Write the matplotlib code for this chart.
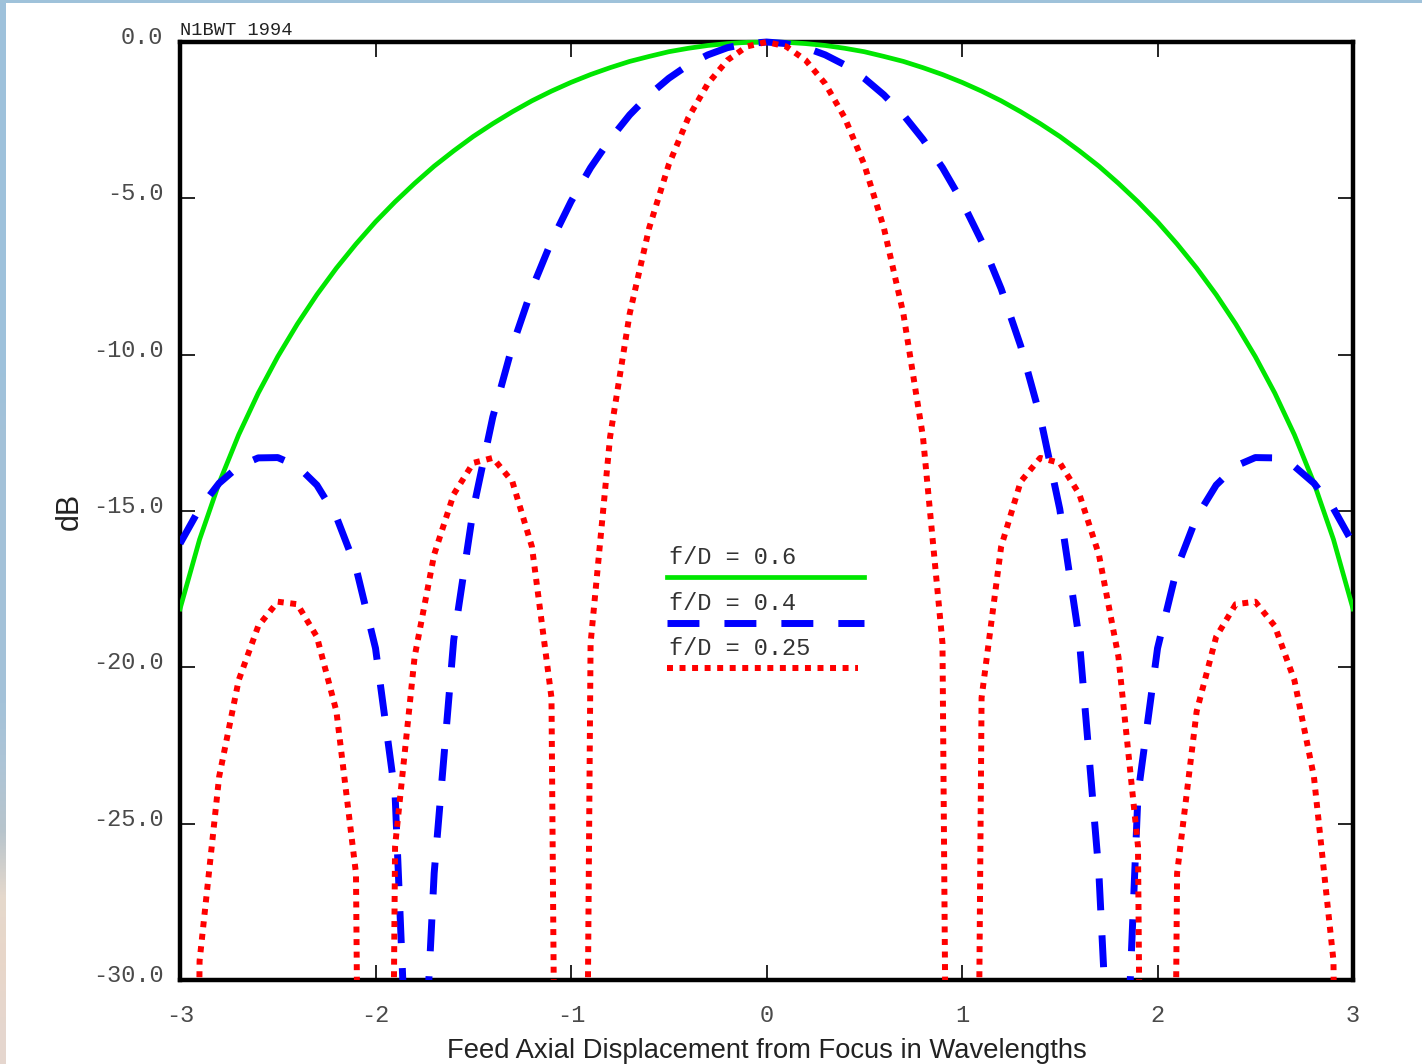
import numpy as np
import matplotlib
matplotlib.use("Agg")
import matplotlib.pyplot as plt
import matplotlib.transforms as mtransforms
from matplotlib.lines import Line2D
from matplotlib.patches import Rectangle

# feed displacement samples (wavelengths), one every 0.1
displacement = np.round(np.linspace(-3.0, 3.0, 61), 1)

# gain loss in dB (nulls drawn as very deep values)
loss_fd_060 = [-18.13, -15.91, -14.10, -12.56, -11.23, -10.06, -9.02, -8.08, -7.23, -6.46,
               -5.75, -5.11, -4.52, -3.97, -3.48, -3.02, -2.61, -2.23, -1.88, -1.57,
               -1.29, -1.04, -0.82, -0.62, -0.46, -0.31, -0.20, -0.11, -0.05, -0.01,
               0.00,
               -0.01, -0.05, -0.11, -0.20, -0.31, -0.46, -0.62, -0.82, -1.04, -1.29,
               -1.57, -1.88, -2.23, -2.61, -3.02, -3.48, -3.97, -4.52, -5.11, -5.75,
               -6.46, -7.23, -8.08, -9.02, -10.06, -11.23, -12.56, -14.10, -15.91, -18.13]

loss_fd_040 = [-16.04, -14.92, -14.11, -13.57, -13.30, -13.29, -13.56, -14.17, -15.19, -16.81,
               -19.39, -24.06, -39.09, -26.58, -19.12, -14.94, -11.99, -9.72, -7.89, -6.37,
               -5.10, -4.02, -3.11, -2.33, -1.69, -1.16, -0.73, -0.41, -0.18, -0.05,
               0.00,
               -0.05, -0.18, -0.41, -0.73, -1.16, -1.69, -2.33, -3.11, -4.02, -5.10,
               -6.37, -7.89, -9.72, -11.99, -14.94, -19.12, -26.58, -39.09, -24.06, -19.39,
               -16.81, -15.19, -14.17, -13.56, -13.29, -13.30, -13.57, -14.11, -14.92, -16.04]

loss_fd_025 = [-100.0, -29.39, -23.50, -20.41, -18.68, -17.90, -17.98, -19.02, -21.41, -26.59,
               -100.0, -25.72, -19.66, -16.39, -14.46, -13.46, -13.30, -14.06, -16.14, -20.97,
               -100.0, -19.23, -12.62, -8.69, -5.94, -3.92, -2.42, -1.33, -0.58, -0.14,
               0.00,
               -0.14, -0.58, -1.33, -2.42, -3.92, -5.94, -8.69, -12.62, -19.23, -100.0,
               -20.97, -16.14, -14.06, -13.30, -13.46, -14.46, -16.39, -19.66, -25.72, -100.0,
               -26.59, -21.41, -19.02, -17.98, -17.90, -18.68, -20.41, -23.50, -29.39, -100.0]

series_labels = ["f/D = 0.6", "f/D = 0.4", "f/D = 0.25"]
series_colors = ["#00e600", "#0000ff", "#ff0000"]

x_ticks = [-3, -2, -1, 0, 1, 2, 3]
x_tick_labels = ["-3", "-2", "-1", "0", "1", "2", "3"]
y_ticks = [0, -5, -10, -15, -20, -25, -30]
y_tick_labels = ["0.0", "-5.0", "-10.0", "-15.0", "-20.0", "-25.0", "-30.0"]

MONO = "Liberation Mono"
SANS = "Liberation Sans"

fig = plt.figure(figsize=(14.22, 10.64), dpi=100, facecolor="white")
ax = fig.add_axes([0.1266, 0.0789, 0.8249, 0.8816])

# page background strips (top and left edge of the screenshot)
strip = fig.add_axes([0, 0, 6 / 1422, 1])
grad = np.array([[0.62, 0.76, 0.86]] * 6 + [[0.64, 0.76, 0.85]] * 5 +
                [[0.68, 0.77, 0.84], [0.72, 0.77, 0.80], [0.90, 0.85, 0.80],
                 [0.91, 0.84, 0.79], [0.90, 0.84, 0.81]])
strip.imshow(grad[:, None, :], aspect="auto", extent=[0, 1, 0, 1], interpolation="bilinear")
strip.set_axis_off()
fig.patches.append(Rectangle((0, 1 - 3 / 1064), 1, 3 / 1064, transform=fig.transFigure,
                             facecolor="#9fc2da", edgecolor="none", zorder=5))

clip = Rectangle((0, 0), 1, 1.01, transform=ax.transAxes, facecolor="none", edgecolor="none")
ax.add_patch(clip)

l1, = ax.plot(displacement, loss_fd_060, color=series_colors[0], lw=3.4, zorder=3)
l2, = ax.plot(displacement, loss_fd_040, color=series_colors[1], lw=5.0, zorder=3)
l2.set_dashes([4.6, 3.6])
l3, = ax.plot(displacement, loss_fd_025, color=series_colors[2], lw=4.3, zorder=3)
l3.set_dashes([1.0, 1.1])
for ln in (l1, l2, l3):
    ln.set_clip_path(clip)

ax.set_xlim(-3, 3)
ax.set_ylim(-30, 0)

for sp in ax.spines.values():
    sp.set_linewidth(3.2)

ax.set_xticks(x_ticks)
ax.set_xticklabels(x_tick_labels, fontfamily=MONO, fontsize=17, color="#4a4a4a")
ax.set_yticks(y_ticks)
ax.set_yticklabels(y_tick_labels, fontfamily=MONO, fontsize=17, color="#4a4a4a")
ax.tick_params(axis="both", direction="in", length=11, width=1.2,
               top=True, right=True, color="black")
ax.tick_params(axis="x", pad=17)
ax.tick_params(axis="y", pad=12)

offset = mtransforms.ScaledTranslation(0, 7 / 100, fig.dpi_scale_trans)
for lab in ax.get_yticklabels():
    lab.set_transform(lab.get_transform() + offset)

ax.set_xlabel("Feed Axial Displacement from Focus in Wavelengths",
              fontfamily=SANS, fontsize=19.7, color="#222222", labelpad=8)
ax.set_ylabel("dB", fontfamily=SANS, fontsize=22, color="#222222", labelpad=6)

ax.text(0.0, 1.003, "N1BWT 1994", transform=ax.transAxes, fontfamily=MONO,
        fontsize=13.5, color="#222222", ha="left", va="bottom")

# hand-placed legend: label text above each line sample
key_x0 = 0.4152
key_y = [0.4296, 0.3806, 0.3326]
key_ends = [0.5831, 0.5831, 0.5780]
for i, lab in enumerate(series_labels):
    ax.text(key_x0 + 0.002, key_y[i] + 0.014, lab, transform=ax.transAxes,
            fontfamily=MONO, fontsize=17, color="#333333", ha="left", va="baseline")
    key = Line2D([key_x0, key_ends[i]], [key_y[i], key_y[i]], transform=ax.transAxes,
                 color=series_colors[i], lw=[3.4, 5.0, 4.3][i])
    if i == 1:
        key.set_dashes([4.6, 3.6])
    elif i == 2:
        key.set_dashes([1.0, 1.1])
    ax.add_line(key)

fig.savefig("out.png", dpi=100, facecolor="white")
